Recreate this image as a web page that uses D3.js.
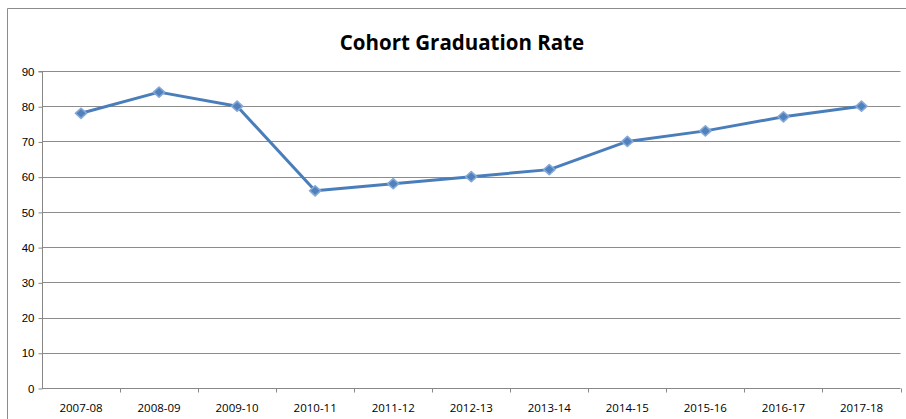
<!DOCTYPE html>
<html lang="en">
<head>
    <title>Cohort Graduation Rate</title>
    <script src="https://d3js.org/d3.v7.min.js"></script>
    <style>
        body { margin: 0; background: #fff; }
        svg { display: block; font-family: "Open Sans", "Liberation Sans", sans-serif; }
        .axis text { font-size: 11.5px; fill: #000; }
        .axis path, .axis line { stroke: #878787; }
        .grid line { stroke: #8c8c8c; stroke-width: 1; }
    </style>
</head>
<body>
    <svg id="chart"></svg>

    <script>
        var width = 906;
        var height = 419;
        var margins = { left: 42, top: 71, right: 5.5, bottom: 31 };

        var years = ["2007-08", "2008-09", "2009-10", "2010-11", "2011-12", "2012-13",
            "2013-14", "2014-15", "2015-16", "2016-17", "2017-18"];
        var rates = [78, 84, 80, 56, 58, 60, 62, 70, 73, 77, 80];
        var yTicks = [0, 10, 20, 30, 40, 50, 60, 70, 80, 90];

        var svg = d3.select("#chart")
            .attr("width", width)
            .attr("height", height);

        // outer chart frame (only left and top edges visible)
        svg.append("path")
            .attr("d", "M7.5," + height + "V8.5H" + width)
            .attr("fill", "none")
            .attr("stroke", "#8c8c8c")
            .attr("stroke-width", 1);

        var xscale = d3.scaleBand()
            .domain(years)
            .range([margins.left, width - margins.right]);
        var yscale = d3.scaleLinear()
            .domain([0, 90])
            .range([height - margins.bottom, margins.top]);

        // gridlines
        svg.append("g")
            .attr("class", "grid")
            .selectAll("line")
            .data(yTicks.filter(function (d) { return d > 0; }))
            .enter()
            .append("line")
            .attr("x1", margins.left)
            .attr("x2", width - margins.right)
            .attr("y1", function (d) { return Math.round(yscale(d)) + 0.5; })
            .attr("y2", function (d) { return Math.round(yscale(d)) + 0.5; });

        var yaxis = d3.axisLeft(yscale)
            .tickValues(yTicks)
            .tickSize(4)
            .tickPadding(4);
        var gy = svg.append("g")
            .attr("class", "axis")
            .attr("transform", "translate(" + (margins.left + 0.5) + ",0.5)")
            .call(yaxis);
        gy.select(".domain").attr("d", "M-4," + margins.top + "H0V" + (height - margins.bottom));

        // x axis with ticks at category boundaries
        var gx = svg.append("g")
            .attr("class", "axis")
            .attr("transform", "translate(0," + (height - margins.bottom + 0.5) + ")");
        gx.append("line")
            .attr("x1", margins.left)
            .attr("x2", width - margins.right);
        gx.selectAll(".bt")
            .data(years)
            .enter()
            .append("line")
            .attr("class", "bt")
            .attr("x1", function (d) { return Math.round(xscale(d) + xscale.bandwidth()) + 0.5; })
            .attr("x2", function (d) { return Math.round(xscale(d) + xscale.bandwidth()) + 0.5; })
            .attr("y1", 0)
            .attr("y2", 4);
        gx.selectAll("text")
            .data(years)
            .enter()
            .append("text")
            .attr("x", function (d) { return xscale(d) + xscale.bandwidth() / 2; })
            .attr("y", 23)
            .attr("text-anchor", "middle")
            .text(function (d) { return d; });

        // title
        svg.append("text")
            .attr("x", 462)
            .attr("y", 50)
            .attr("text-anchor", "middle")
            .attr("font-size", "20.5px")
            .attr("font-weight", "bold")
            .text("Cohort Graduation Rate");

        var cx = function (d, i) { return xscale(years[i]) + xscale.bandwidth() / 2; };
        var cy = function (d) { return yscale(d); };

        var line = d3.line()
            .x(cx)
            .y(cy);

        svg.append("path")
            .datum(rates)
            .attr("d", line)
            .attr("fill", "none")
            .attr("stroke", "#4a7ebb")
            .attr("stroke-width", 3)
            .attr("stroke-linejoin", "round");

        var diamond = d3.symbol().type(d3.symbolSquare).size(52);
        svg.append("g")
            .selectAll("path")
            .data(rates)
            .enter()
            .append("path")
            .attr("d", diamond)
            .attr("transform", function (d, i) { return "translate(" + cx(d, i) + "," + cy(d) + ") scale(1.1,1) rotate(45)"; })
            .attr("fill", "#4f81bd")
            .attr("stroke", "#86a8d6")
            .attr("stroke-width", 1.5)
            .attr("stroke-linejoin", "round");
    </script>
</body>
</html>
